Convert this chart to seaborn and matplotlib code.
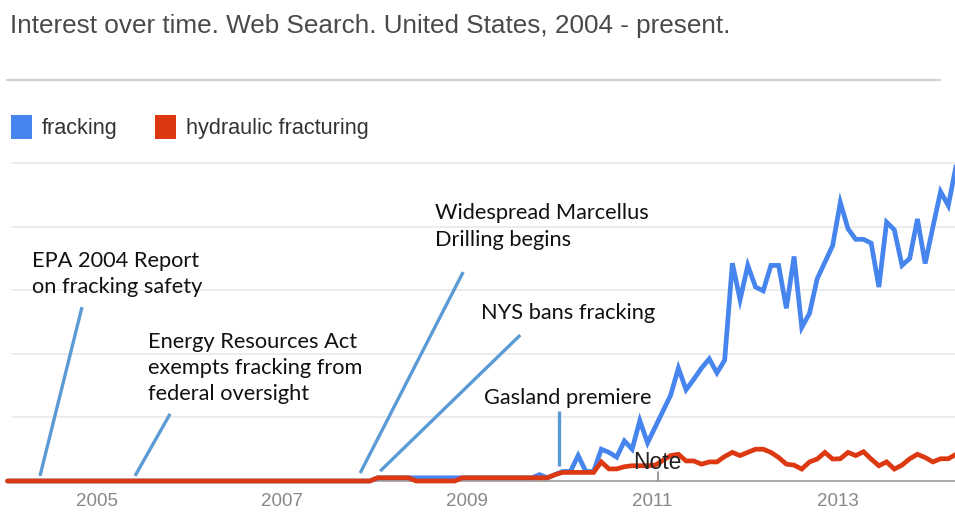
import numpy as np
import pandas as pd
import matplotlib
matplotlib.use("Agg")
import matplotlib.pyplot as plt
from matplotlib.patches import Patch
from matplotlib.lines import Line2D
import seaborn as sns

# ---------------- data (monthly, Jan 2004 - Apr 2014) ----------------
months = pd.date_range("2004-01-01", "2014-04-01", freq="MS")

fracking = [
    # 2004
    0, 0, 0, 0, 0, 0, 0, 0, 0, 0, 0, 0,
    # 2005
    0, 0, 0, 0, 0, 0, 0, 0, 0, 0, 0, 0,
    # 2006
    0, 0, 0, 0, 0, 0, 0, 0, 0, 0, 0, 0,
    # 2007
    0, 0, 0, 0, 0, 0, 0, 0, 0, 0, 0, 0,
    # 2008
    1, 1, 1, 1, 1, 1, 1, 1, 1, 1, 1, 1,
    # 2009
    1, 1, 1, 1, 1, 1, 1, 1, 1, 2, 1, 2,
    # 2010
    3, 3, 8, 3, 3, 10, 9, 7.5, 12.6, 10, 19, 12,
    # 2011
    17, 22, 27, 35.5, 28.7, 32, 35.5, 38.4, 34, 38, 68.5, 57,
    # 2012
    67.8, 61, 59.8, 67.8, 67.8, 54.3, 70.6, 48.3, 52.7, 63.6, 68.8, 74,
    # 2013
    87.6, 79.3, 76, 76, 74.8, 61, 81.4, 79, 67.8, 70, 82.4, 68.4,
    # 2014
    79.8, 91, 86.6, 99,
]

hydraulic_fracturing = [
    # 2004
    0, 0, 0, 0, 0, 0, 0, 0, 0, 0, 0, 0,
    # 2005
    0, 0, 0, 0, 0, 0, 0, 0, 0, 0, 0, 0,
    # 2006
    0, 0, 0, 0, 0, 0, 0, 0, 0, 0, 0, 0,
    # 2007
    0, 0, 0, 0, 0, 0, 0, 0, 0, 0, 0, 0,
    # 2008
    1, 1, 1, 1, 1, 0, 0, 0, 0, 0, 0, 1,
    # 2009
    1, 1, 1, 1, 1, 1, 1, 1, 1, 1, 1, 2,
    # 2010
    2.7, 2.7, 2.7, 2.7, 2.7, 6, 3.8, 3.8, 4.5, 4.8, 4.8, 4.8,
    # 2011
    5, 6.5, 8, 8.4, 6.3, 6.3, 5.3, 6, 6, 7.7, 9, 8,
    # 2012
    9, 10, 10, 9, 7.4, 5.3, 5, 3.75, 6, 6.9, 9, 6.9,
    # 2013
    7, 9, 8, 9.2, 6.9, 4.8, 6, 3.75, 5, 7, 8.4, 7.4,
    # 2014
    6, 7, 7, 8.4,
]

series_names = ["fracking", "hydraulic fracturing"]
series_colors = ["#4684ee", "#dc3912"]
tick_years = [2005, 2007, 2009, 2011, 2013]
tick_labels = ["2005", "2007", "2009", "2011", "2013"]
title_text = "Interest over time. Web Search. United States, 2004 - present."

# annotations: (text, text position (year, value), pointer start, pointer end)
annotations = [
    ("EPA 2004 Report\non fracking safety", (2004.265, 65.1), (2004.805, 54.7), (2004.351, 1.6)),
    ("Energy Resources Act\nexempts fracking from\nfederal oversight", (2005.519, 35.5), (2005.757, 21.1), (2005.378, 1.6)),
    ("Widespread Marcellus\nDrilling begins", (2008.622, 80.0), (2008.924, 65.7), (2007.811, 2.5)),
    ("NYS bans fracking", (2009.119, 52.8), (2009.541, 45.9), (2008.027, 3.1)),
    ("Gasland premiere", (2009.151, 26.1), (2009.962, 22.0), (2009.962, 4.7)),
]
note_x = 2011.03

# ---------------- build frame ----------------
dec_year = months.year + (months.month - 1) / 12.0
df = pd.DataFrame({
    "year": np.concatenate([dec_year, dec_year]),
    "interest": np.concatenate([fracking, hydraulic_fracturing]),
    "term": [series_names[0]] * len(months) + [series_names[1]] * len(months),
})

sns.set_theme(style="white")
plt.rcParams["font.family"] = ["Liberation Sans", "DejaVu Sans"]

W, H = 955, 513
fig = plt.figure(figsize=(W / 100, H / 100), dpi=100)
fig.patch.set_facecolor("white")

x0, x1 = 7.5, 956.0
y_base, y_top = 481.0, 163.0
ax = fig.add_axes([x0 / W, (H - y_base) / H, (x1 - x0) / W, (y_base - y_top) / H])

# gridlines
for g in [20, 40, 60, 80, 100]:
    ax.axhline(g, xmin=0.005, color="#ebebeb", lw=1.3, zorder=0, clip_on=False)
ax.axhline(0, color="#a8a8a8", lw=1.4, zorder=1, clip_on=False)

sns.lineplot(data=df, x="year", y="interest", hue="term", hue_order=series_names,
             palette=dict(zip(series_names, series_colors)), lw=3.4, legend=False,
             ax=ax, zorder=3)
for ln in ax.lines:
    ln.set_clip_on(False)
    ln.set_solid_joinstyle("miter")

ax.set_xlim(2004.0, 2014.25)
ax.set_ylim(0, 100)
for s in ax.spines.values():
    s.set_visible(False)
ax.set_yticks([])
ax.set_xticks([t - 0.03 for t in tick_years])
ax.set_xticklabels(tick_labels, color="#888888", fontsize=13.5)
ax.tick_params(axis="x", length=0, pad=9)
ax.set_xlabel("")
ax.set_ylabel("")
ax.set_facecolor("none")

# annotations
ann_font = ["Lato", "DejaVu Sans"]
for text, tpos, p0, p1 in annotations:
    ax.text(tpos[0], tpos[1], text, ha="left", va="center", fontsize=15.7,
            family=ann_font, color="#111111", linespacing=1.39, zorder=5)
    ax.plot([p0[0], p1[0]], [p0[1], p1[1]], color="#5b9bd5", lw=2.4,
            solid_capstyle="butt", zorder=4, clip_on=False)

# note marker
ax.plot([note_x, note_x], [0, 2.8], color="#888888", lw=1.2, zorder=2)
ax.text(note_x - 0.01, 5.8, "Note", ha="center", va="center", fontsize=16.5,
        color="#222222", zorder=6)

# title, separator, legend
fig.text(10 / W, 1 - 26 / H, title_text, ha="left", va="center",
         fontsize=18.8, color="#4a4a4a")
fig.add_artist(Line2D([7 / W, 940 / W], [1 - 80 / H, 1 - 80 / H],
                      color="#d0d0d0", lw=1.5, transform=fig.transFigure))

handles = [Patch(facecolor=c, edgecolor="none") for c in series_colors]
fig.legend(handles, series_names, loc="center left",
           bbox_to_anchor=(11 / W, 1 - 127 / H), frameon=False, ncol=2,
           borderaxespad=0, borderpad=0,
           handlelength=0.95, handleheight=1.3, handletextpad=0.47,
           columnspacing=1.75, fontsize=15.6, labelcolor="#333333")

fig.savefig("out.png", dpi=100, facecolor="white")
